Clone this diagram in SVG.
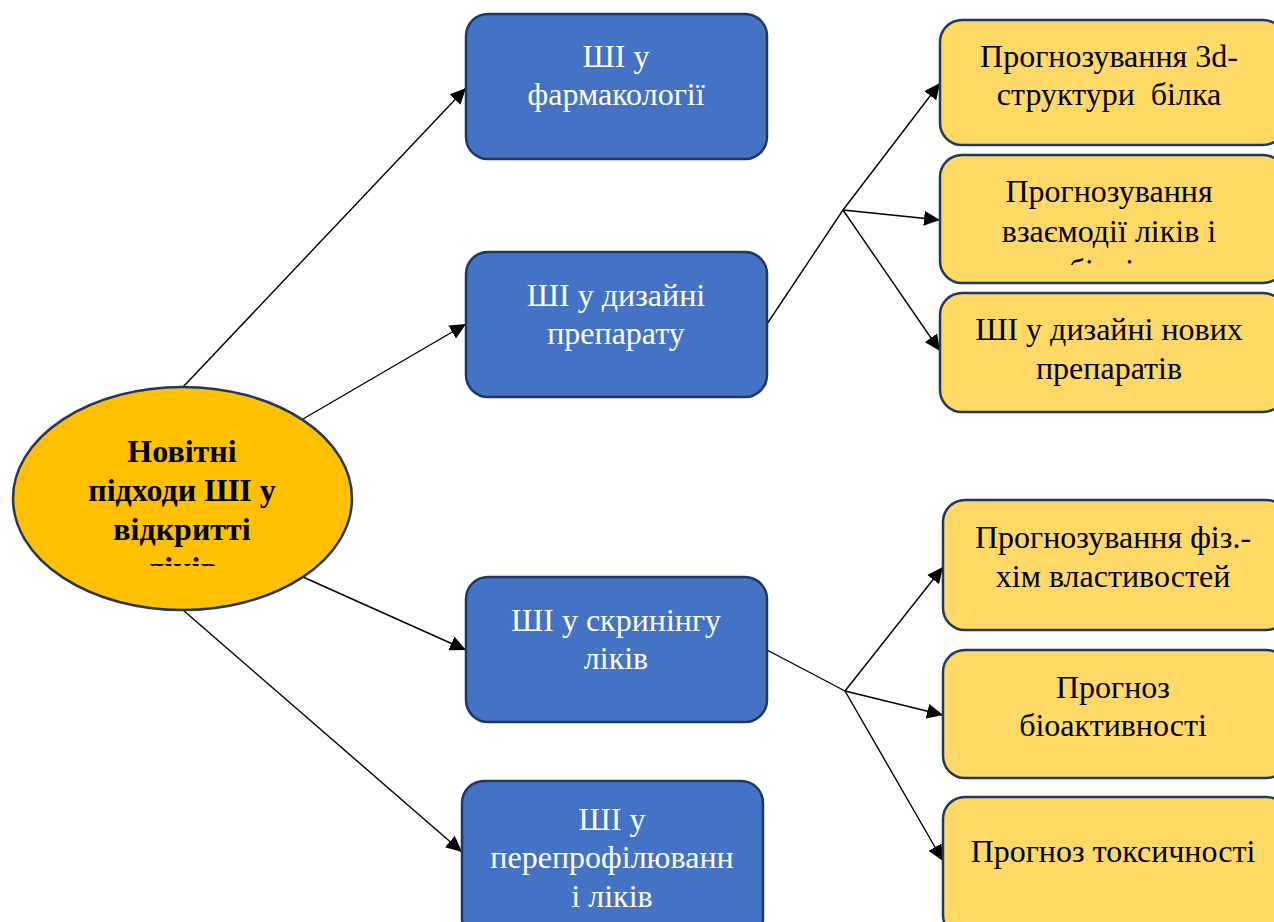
<svg xmlns="http://www.w3.org/2000/svg" width="1274" height="922" viewBox="0 0 1274 922">
<style>
.blue{fill:#4472C4;stroke:#1F3864;stroke-width:2.5}
.yel{fill:#FFD966;stroke:#1F3864;stroke-width:2.5}
.ell{fill:#FFC000;stroke:#1F3864;stroke-width:2.5}
.tw{font-family:"Liberation Serif","Times New Roman",serif;font-size:32px;fill:#FFFFFF;text-anchor:middle}
.tb{font-family:"Liberation Serif","Times New Roman",serif;font-size:32px;fill:#000000;text-anchor:middle}
.tbold{font-family:"Liberation Serif","Times New Roman",serif;font-size:32px;font-weight:bold;fill:#000000;text-anchor:middle}
.conn line{stroke:#000;stroke-width:1.4;fill:none}
.arr{marker-end:url(#ah)}
</style>
<defs>
<marker id="ah" viewBox="0 0 16 15" refX="16" refY="7.5" markerUnits="userSpaceOnUse" markerWidth="16" markerHeight="15" orient="auto">
<path d="M0,0 L16,7.5 L0,15 z" fill="#000"/>
</marker>
<clipPath id="clipEll"><rect x="0" y="380" width="360" height="186"/></clipPath>
<clipPath id="clipY2"><rect x="940" y="150" width="334" height="115"/></clipPath>
</defs>
<rect width="1274" height="922" fill="#FFFFFF"/>

<g id="connectors" class="conn">
<line class="arr" x1="183" y1="387" x2="466" y2="88"/>
<line class="arr" x1="303" y1="419" x2="466" y2="324"/>
<line class="arr" x1="303" y1="577" x2="466" y2="650"/>
<line class="arr" x1="183" y1="610" x2="462" y2="852"/>
<line x1="767" y1="324" x2="843" y2="210"/>
<line class="arr" x1="843" y1="210" x2="940" y2="83"/>
<line class="arr" x1="843" y1="210" x2="940" y2="220"/>
<line class="arr" x1="843" y1="210" x2="940" y2="351"/>
<line x1="767" y1="650" x2="845" y2="691"/>
<line class="arr" x1="845" y1="691" x2="943" y2="567"/>
<line class="arr" x1="845" y1="691" x2="943" y2="715"/>
<line class="arr" x1="845" y1="691" x2="943" y2="861"/>
</g>

<g id="root">
<ellipse class="ell" cx="182.5" cy="498.5" rx="169.5" ry="111.5"/>
<g clip-path="url(#clipEll)">
<text class="tbold" x="182" y="462">Новітні</text>
<text class="tbold" x="182" y="501">підходи ШІ у</text>
<text class="tbold" x="182" y="540">відкритті</text>
<text class="tbold" x="182" y="579">ліків</text>
</g>
</g>

<g id="b1">
<rect class="blue" x="466" y="14" width="301" height="145" rx="22"/>
<text class="tw" x="616" y="67">ШІ у</text>
<text class="tw" x="616" y="105">фармакології</text>
</g>
<g id="b2">
<rect class="blue" x="466" y="252" width="301" height="145" rx="22"/>
<text class="tw" x="616" y="306">ШІ у дизайні</text>
<text class="tw" x="616" y="344">препарату</text>
</g>
<g id="b3">
<rect class="blue" x="466" y="577" width="301" height="145" rx="22"/>
<text class="tw" x="616" y="631">ШІ у скринінгу</text>
<text class="tw" x="616" y="669">ліків</text>
</g>
<g id="b4">
<rect class="blue" x="462" y="781" width="301" height="160" rx="22"/>
<text class="tw" x="612" y="830">ШІ у</text>
<text class="tw" x="612" y="868">перепрофілюванн</text>
<text class="tw" x="612" y="907">і ліків</text>
</g>

<g id="y1">
<rect class="yel" x="940" y="20" width="345" height="125" rx="22"/>
<text class="tb" x="1109" y="67">Прогнозування 3d-</text>
<text class="tb" x="1109" y="105" xml:space="preserve">структури  білка</text>
</g>
<g id="y2">
<rect class="yel" x="940" y="155" width="345" height="128" rx="22"/>
<g clip-path="url(#clipY2)">
<text class="tb" x="1109" y="202">Прогнозування</text>
<text class="tb" x="1109" y="242">взаємодії ліків і</text>
<text class="tb" x="1109" y="281">білків</text>
</g>
</g>
<g id="y3">
<rect class="yel" x="940" y="293" width="345" height="119" rx="22"/>
<text class="tb" x="1109" y="340">ШІ у дизайні нових</text>
<text class="tb" x="1109" y="379">препаратів</text>
</g>
<g id="y4">
<rect class="yel" x="943" y="500" width="345" height="130" rx="22"/>
<text class="tb" x="1113" y="548">Прогнозування фіз.-</text>
<text class="tb" x="1113" y="587">хім властивостей</text>
</g>
<g id="y5">
<rect class="yel" x="943" y="650" width="345" height="128" rx="22"/>
<text class="tb" x="1113" y="698">Прогноз</text>
<text class="tb" x="1113" y="736">біоактивності</text>
</g>
<g id="y6">
<rect class="yel" x="943" y="797" width="345" height="140" rx="22"/>
<text class="tb" x="1113" y="862">Прогноз токсичності</text>
</g>
</svg>
